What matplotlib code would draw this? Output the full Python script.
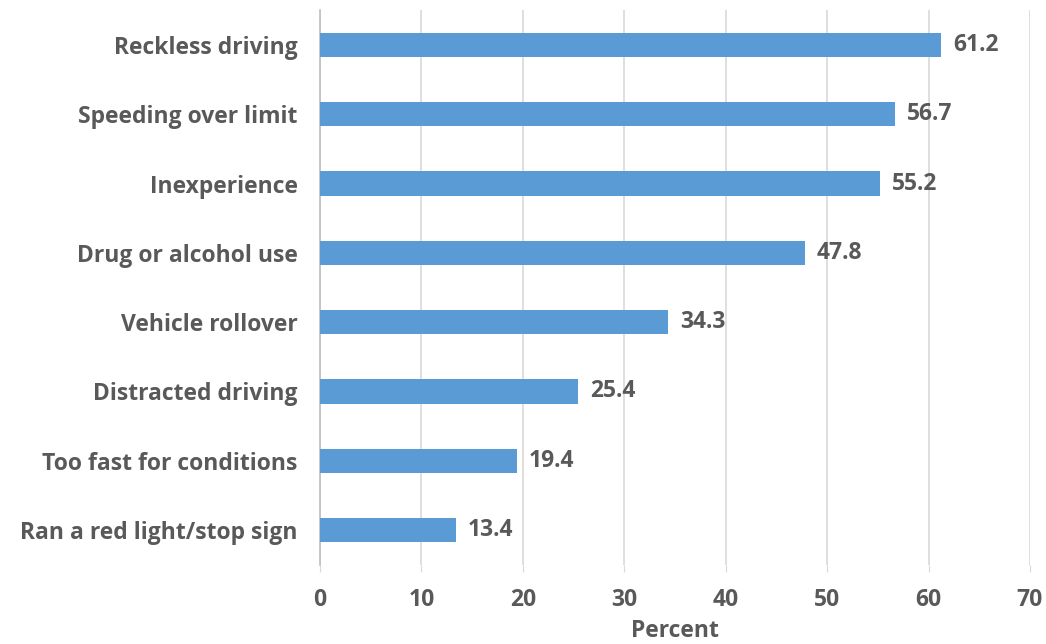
import numpy as np
import matplotlib
matplotlib.use("Agg")
import matplotlib.pyplot as plt

# causes listed top to bottom
causes = ["Reckless driving", "Speeding over limit", "Inexperience", "Drug or alcohol use",
          "Vehicle rollover", "Distracted driving", "Too fast for conditions", "Ran a red light/stop sign"]
percent = [61.2, 56.7, 55.2, 47.8, 34.3, 25.4, 19.4, 13.4]
xticks = [0, 10, 20, 30, 40, 50, 60, 70]

plt.rcParams['font.family'] = ['Open Sans', 'DejaVu Sans']
grey = "#595959"
fs = 16.5

fig = plt.figure(figsize=(10.46, 6.44), dpi=100)
ax = fig.add_axes([0.3059, 0.1233, 0.6788, 0.8606])

y = np.arange(len(causes))
ax.barh(y, percent, height=0.35, color="#5B9BD5", zorder=3)
for yi, v in zip(y, percent):
    ax.text(v + 1.2, yi, f"{v:.1f}", va="center", ha="left", fontsize=fs,
            fontweight="bold", color=grey)

ax.set_ylim(len(causes) - 0.5, -0.5)
ax.set_xlim(0, 70)
ax.set_yticks(y)
ax.set_yticklabels(causes, fontsize=fs, fontweight="bold", color=grey)
ax.set_xticks(xticks)
ax.set_xticklabels([str(t) for t in xticks], fontsize=fs, fontweight="bold", color=grey)
ax.tick_params(axis="y", length=0, pad=16)
ax.tick_params(axis="x", length=5, color="#D9D9D9", pad=12)
ax.grid(axis="x", color="#D9D9D9", linewidth=1.2, zorder=0)
for s in ["top", "right", "bottom"]:
    ax.spines[s].set_visible(False)
ax.spines["left"].set_color("#BFBFBF")
ax.spines["left"].set_linewidth(1.2)
ax.set_xlabel("Percent", fontsize=fs, fontweight="bold", color=grey)
ax.xaxis.set_label_coords(0.5, -0.098)

fig.savefig("out.png", dpi=100)
